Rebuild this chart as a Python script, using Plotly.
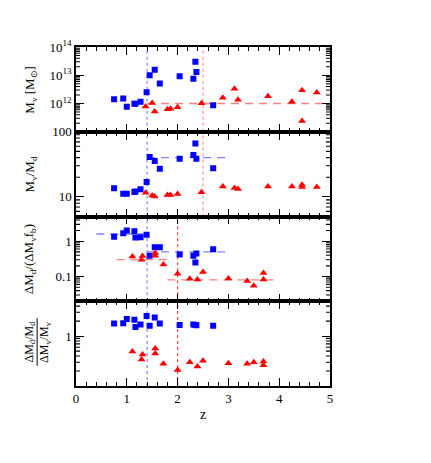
import plotly.graph_objects as go
from plotly.subplots import make_subplots

# --- data ---
z_blue = [0.75, 0.93, 1.00, 1.15, 1.17, 1.27, 1.39, 1.45, 1.55, 1.65, 2.04, 2.31, 2.35, 2.37, 2.70]
mv_blue = [1.4e12, 1.5e12, 7.6e11, 9.7e11, 9.7e11, 1.15e12, 2.5e12, 1.0e13, 1.55e13, 5.1e12,
           9.3e12, 7.5e12, 3.0e13, 1.3e13, 8.7e11]
ratio_blue = [13.6, 11.2, 11.2, 11.9, 12.1, 13.1, 17, 41, 35.6, 27, 38.5, 44, 66, 38.5, 27.6]
eff_blue = [1.34, 1.67, 2.0, 1.9, 1.28, 1.3, 1.53, 0.39, 0.67, 0.67, 0.42, 0.39, 0.25, 0.45, 0.59]
frac_blue = [1.80, 1.82, 2.2, 2.14, 1.52, 1.7, 2.53, 1.62, 2.35, 1.80, 1.67, 1.70, 1.68, 1.66, 1.62]

z_red_top = [1.37, 1.50, 1.55, 1.80, 1.86, 2.00, 2.47, 2.89, 3.12, 3.19, 3.78, 4.25, 4.45, 4.45, 4.74]
mv_red = [7.8e11, 1.05e12, 5.2e11, 6.3e11, 6.5e11, 7.4e11, 1.03e12, 1.6e12, 3.3e12, 1.35e12,
          1.8e12, 1.15e12, 2.95e12, 2.4e11, 2.45e12]
ratio_red = [11.6, 10.5, 10.1, 10.7, 10.7, 11.1, 11.8, 14.4, 13.7, 13.2, 14.4, 14.4, 15.3, 14.2, 14.2]

z_red_bot = [1.11, 1.29, 1.31, 1.56, 1.56, 1.72, 2.00, 2.24, 2.39, 2.50, 3.00, 3.37, 3.50, 3.69, 3.69]
eff_red = [0.37, 0.30, 0.38, 0.46, 0.39, 0.22, 0.12, 0.086, 0.082, 0.134, 0.088, 0.075, 0.055, 0.125, 0.082]
frac_red = [0.49, 0.34, 0.43, 0.565, 0.45, 0.28, 0.21, 0.30, 0.245, 0.32, 0.285, 0.28, 0.30, 0.31, 0.26]

# mean levels (z start, z end, value)
fit_p1_red = [1.4, 5.0, 1e12]
fit_p2_blue = [1.4, 3.0, 40]
fit_p3_blue = [[0.4, 1.4, 1.6], [1.4, 3.0, 0.5]]
fit_p3_red = [[0.8, 1.8, 0.30], [1.8, 4.0, 0.08]]

# transition redshifts
z_blue_trans = 1.4
z_red_trans_top = 2.5
z_red_trans_bot = 2.0

BLUE = "#0000ff"
RED = "#ff0000"
FONT = "Liberation Serif"
Z_MAX = 5

fig = make_subplots(rows=4, cols=1, shared_xaxes=True, vertical_spacing=0)

def points(row, x, y, color, symbol, size):
    fig.add_trace(go.Scatter(x=x, y=y, mode="markers",
                             marker=dict(color=color, symbol=symbol, size=size, line=dict(width=0)),
                             showlegend=False), row=row, col=1)

def level(row, seg, color):
    fig.add_trace(go.Scatter(x=[seg[0], seg[1]], y=[seg[2], seg[2]], mode="lines",
                             line=dict(color=color, width=1.3, dash="8px,6px"),
                             showlegend=False), row=row, col=1)

def vline(row, z, color):
    fig.add_vline(x=z, line=dict(color=color, width=1.3, dash="dot"), layer="below",
                  exclude_empty_subplots=False, row=row, col=1)

def minor_vals(lo, hi):
    vals = []
    for e in range(lo, hi):
        for m in range(2, 10):
            vals.append(m * 10 ** e)
    return vals

# short log minor ticks on both sides (plotly's log minor ticks clash with array ticks)
def minor_ticks(row, vals):
    xs, ys = [], []
    tl = 0.08
    for v in vals:
        xs += [0, tl, None, Z_MAX - tl, Z_MAX, None]
        ys += [v, v, None, v, v, None]
    fig.add_trace(go.Scatter(x=xs, y=ys, mode="lines", line=dict(color="black", width=1.1),
                             hoverinfo="skip", showlegend=False, cliponaxis=True), row=row, col=1)

# panel 1
level(1, fit_p1_red, "#ff7f7f")
points(1, z_blue, mv_blue, BLUE, "square", 6)
points(1, z_red_top, mv_red, RED, "triangle-up", 7)
minor_ticks(1, minor_vals(11, 14))
vline(1, z_blue_trans, "#8f8fff")
vline(1, z_red_trans_top, "#ff9a9a")

# panel 2
level(2, fit_p2_blue, "#7f7fff")
points(2, z_blue, ratio_blue, BLUE, "square", 6)
points(2, z_red_top, ratio_red, RED, "triangle-up", 7)
minor_ticks(2, [v for v in minor_vals(0, 2) if v > 5])
vline(2, z_blue_trans, "#8f8fff")
vline(2, z_red_trans_top, "#ff9a9a")

# panel 3
for s in fit_p3_blue:
    level(3, s, "#7f7fff")
for s in fit_p3_red:
    level(3, s, "#ff7f7f")
points(3, z_blue, eff_blue, BLUE, "square", 6)
points(3, z_red_bot, eff_red, RED, "triangle-up", 7)
minor_ticks(3, [v for v in minor_vals(-2, 1) if v < 5])
vline(3, z_blue_trans, "#8f8fff")
vline(3, z_red_trans_bot, "#ff4a4a")

# panel 4
points(4, z_blue, frac_blue, BLUE, "square", 6)
points(4, z_red_bot, frac_red, RED, "triangle-up", 7)
minor_ticks(4, [v for v in minor_vals(-1, 1) if v < 5])
vline(4, z_blue_trans, "#8f8fff")
vline(4, z_red_trans_bot, "#ff4a4a")

axis_common = dict(showline=True, linecolor="black", linewidth=1.5, mirror="allticks",
                   ticks="inside", ticklen=8, tickwidth=1.3, tickcolor="black",
                   showgrid=False, zeroline=False,
                   tickfont=dict(family=FONT, size=13, color="black"))

for r in range(1, 5):
    fig.update_xaxes(range=[0, Z_MAX], dtick=1, tick0=0,
                     minor=dict(dtick=0.2, ticks="inside", ticklen=4, tickcolor="black"),
                     row=r, col=1, **axis_common)
fig.update_xaxes(title=dict(text="z", font=dict(family=FONT, size=14, color="black"), standoff=4),
                 row=4, col=1)

fig.update_yaxes(type="log", range=[11, 14], tickvals=[1e12, 1e13, 1e14],
                 ticktext=["10<sup>12</sup>", "10<sup>13</sup>", "10<sup>14</sup>"],
                 row=1, col=1, **axis_common)
fig.update_yaxes(type="log", range=[0.69897, 2], tickvals=[10, 100], ticktext=["10", "100"],
                 row=2, col=1, **axis_common)
fig.update_yaxes(type="log", range=[-1.69897, 0.69897], tickvals=[0.1, 1], ticktext=["0.1", "1"],
                 row=3, col=1, **axis_common)
fig.update_yaxes(type="log", range=[-1, 0.69897], tickvals=[1], ticktext=["1"],
                 row=4, col=1, **axis_common)

# y titles as rotated annotations
titles = [
    "M<sub>v</sub> [M<sub>⊙</sub>]",
    "M<sub>v</sub>/M<sub>d</sub>",
    "ΔM<sub>d</sub>/(ΔM<sub>v</sub>f<sub>b</sub>)",
]
for i, t in enumerate(titles):
    yd = "y domain" if i == 0 else "y%d domain" % (i + 1)
    fig.add_annotation(text=t, textangle=-90, xref="paper", yref=yd, x=-0.18, y=0.5,
                       xanchor="center", yanchor="middle", showarrow=False,
                       font=dict(family=FONT, size=13, color="black"))

# stacked fraction for the bottom panel
fig.add_annotation(text="ΔM<sub>d</sub>/M<sub>d</sub>", textangle=-90, xref="paper", yref="y4 domain",
                   x=-0.183, y=0.52, xanchor="center", yanchor="middle", showarrow=False,
                   font=dict(family=FONT, size=12, color="black"))
fig.add_annotation(text="ΔM<sub>v</sub>/M<sub>v</sub>", textangle=-90, xref="paper", yref="y4 domain",
                   x=-0.122, y=0.52, xanchor="center", yanchor="middle", showarrow=False,
                   font=dict(family=FONT, size=12, color="black"))
fig.add_shape(type="line", xref="paper", yref="y4 domain", x0=-0.153, x1=-0.153, y0=0.24, y1=0.80,
              line=dict(color="black", width=1))

fig.update_layout(width=431, height=463, margin=dict(l=68, r=109, t=39, b=85),
                  paper_bgcolor="white", plot_bgcolor="white",
                  font=dict(family=FONT, color="black"))

fig.write_html("out.html")
